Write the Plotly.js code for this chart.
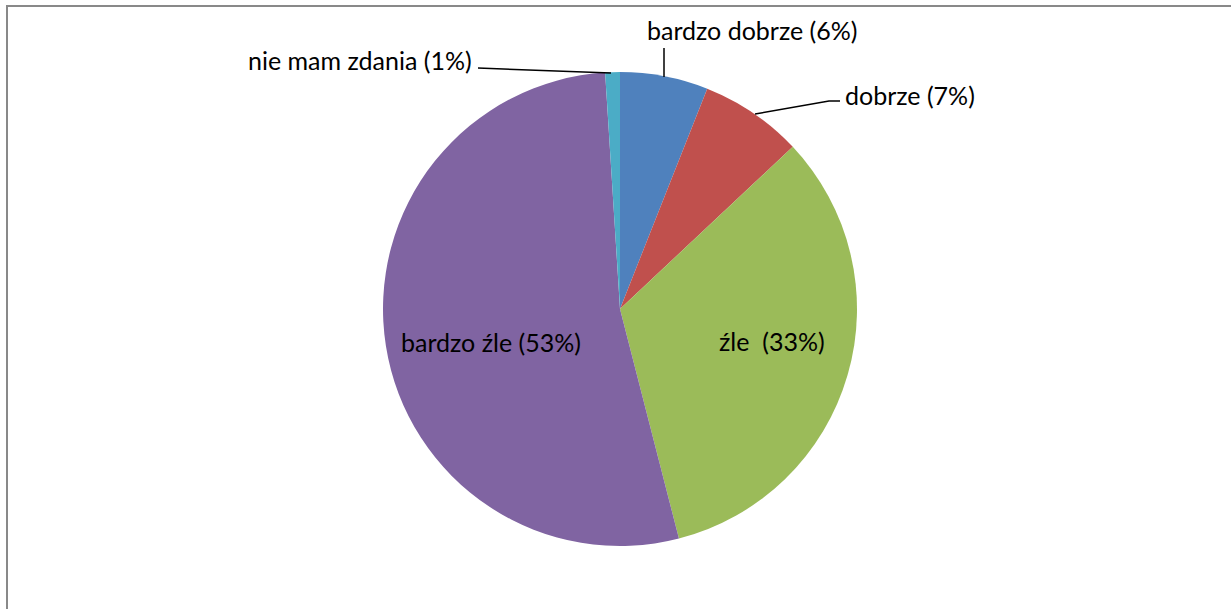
<!DOCTYPE html>
<html><head><meta charset="utf-8">
<script src="https://cdn.plot.ly/plotly-3.0.1.min.js"></script>
<style>
html,body{margin:0;padding:0;background:#fff;overflow:hidden;}
#frame{position:absolute;left:6px;top:5px;width:1300px;height:700px;border-left:2px solid #898989;border-top:2px solid #898989;}
#chart{position:absolute;left:0;top:0;width:1231px;height:609px;}
</style></head>
<body>
<div id="frame"></div>
<div id="chart"></div>
<script>
const categories = ["bardzo dobrze", "dobrze", "źle ", "bardzo źle", "nie mam zdania"];
const values = [6, 7, 33, 53, 1];
const percentLabels = ["6%", "7%", "33%", "53%", "1%"];
const colors = ["#4F81BD", "#C0504D", "#9BBB59", "#8064A2", "#4BACC6"];

const W = 1231, H = 609;
const px = x => x / W, py = y => 1 - y / H;

const labels = categories.map((c, i) => c + " (" + percentLabels[i] + ")");

// label anchor positions (pixels)
const labelPos = [
  {x: 645, y: 30, xa: 'left'},
  {x: 843, y: 95, xa: 'left'},
  {x: 772, y: 341, xa: 'center'},
  {x: 491, y: 342, xa: 'center'},
  {x: 474, y: 60, xa: 'right'}
];
const leaderPaths = [
  [[664, 48], [664, 77]],
  [[840, 101], [829, 101], [755, 114]],
  null, null,
  [[478, 68], [611, 73]]
];

const trace = {
  type: 'pie',
  values: values,
  labels: categories,
  marker: {colors: colors, line: {width: 0}},
  sort: false,
  direction: 'clockwise',
  rotation: 0,
  textinfo: 'none',
  hoverinfo: 'label+percent',
  showlegend: false,
  domain: {x: [px(620 - 237), px(620 + 237)], y: [py(309 + 237), py(309 - 237)]}
};

const annotations = labels.map((t, i) => ({
  text: t, xref: 'paper', yref: 'paper',
  x: px(labelPos[i].x), y: py(labelPos[i].y),
  xanchor: labelPos[i].xa, yanchor: 'middle',
  showarrow: false,
  font: {family: 'Lato, "Open Sans", sans-serif', size: 25, color: '#000'}
}));

const shapes = leaderPaths.filter(p => p).map(p => ({
  type: 'path', xref: 'paper', yref: 'paper',
  path: p.map((q, k) => (k ? 'L' : 'M') + px(q[0]) + ',' + py(q[1])).join(' '),
  line: {color: '#000', width: 1.5}
}));

Plotly.newPlot('chart', [trace], {
  width: W, height: H,
  margin: {l: 0, r: 0, t: 0, b: 0},
  paper_bgcolor: 'rgba(0,0,0,0)',
  plot_bgcolor: 'rgba(0,0,0,0)',
  annotations: annotations,
  shapes: shapes
}, {displayModeBar: false});
</script>
</body></html>
